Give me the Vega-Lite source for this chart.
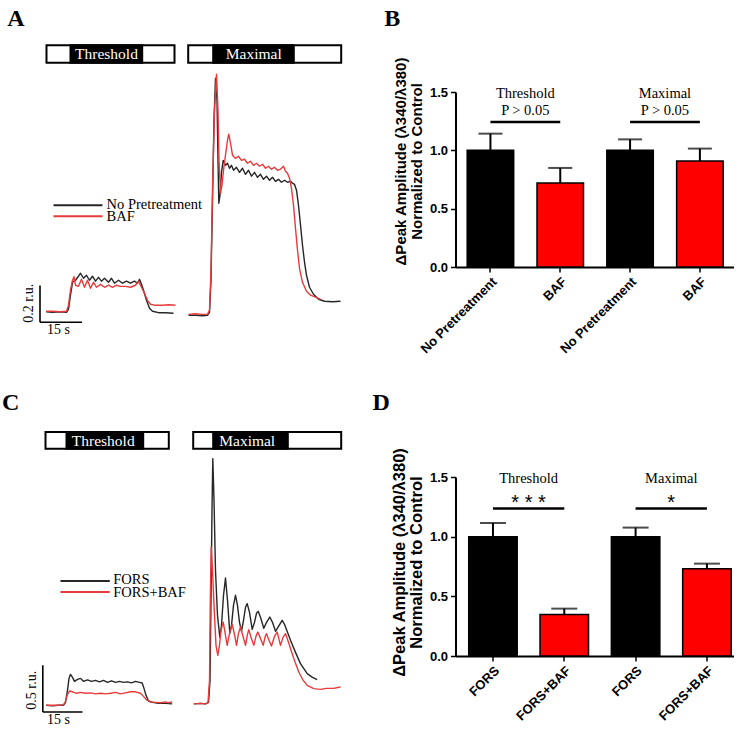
{
"$schema":"https://vega.github.io/schema/vega-lite/v6.json",
"padding":{"left":1.5,"top":7,"right":5,"bottom":5},
"background":"white",
"columns":2,
"bounds":"flush",
"spacing":{"row":210,"column":107},
"config":{
 "view":{"stroke":null},
 "axis":{"domainColor":"black","domainWidth":2,"tickColor":"black","tickWidth":1.5,"tickSize":5,"labelColor":"black","labelFont":"Liberation Sans","labelFontWeight":"bold","labelFontSize":13,"labelPadding":3,"titleFont":"Liberation Sans","titleFontWeight":"bold","titleColor":"black","grid":false},
 "text":{"font":"Liberation Serif","color":"black"}
},
"datasets":{
"trA":[
{"s":"T0","c":"ctrl","t":2.04,"v":0.057},{"s":"T0","c":"ctrl","t":4.29,"v":0.054},{"s":"T0","c":"ctrl","t":7.14,"v":0.057},{"s":"T0","c":"ctrl","t":9.29,"v":0.054},{"s":"T0","c":"ctrl","t":10.0,"v":0.071},{"s":"T0","c":"ctrl","t":10.71,"v":0.147},{"s":"T0","c":"ctrl","t":11.43,"v":0.217},{"s":"T0","c":"ctrl","t":12.5,"v":0.228},{"s":"T0","c":"ctrl","t":13.57,"v":0.25},{"s":"T0","c":"ctrl","t":14.29,"v":0.266},{"s":"T0","c":"ctrl","t":15.36,"v":0.239},{"s":"T0","c":"ctrl","t":16.43,"v":0.255},{"s":"T0","c":"ctrl","t":17.5,"v":0.228},{"s":"T0","c":"ctrl","t":18.57,"v":0.25},{"s":"T0","c":"ctrl","t":19.64,"v":0.223},{"s":"T0","c":"ctrl","t":20.71,"v":0.244},{"s":"T0","c":"ctrl","t":21.79,"v":0.223},{"s":"T0","c":"ctrl","t":22.86,"v":0.239},{"s":"T0","c":"ctrl","t":24.29,"v":0.217},{"s":"T0","c":"ctrl","t":25.36,"v":0.239},{"s":"T0","c":"ctrl","t":26.43,"v":0.212},{"s":"T0","c":"ctrl","t":27.86,"v":0.228},{"s":"T0","c":"ctrl","t":29.29,"v":0.212},{"s":"T0","c":"ctrl","t":30.71,"v":0.223},{"s":"T0","c":"ctrl","t":32.14,"v":0.212},{"s":"T0","c":"ctrl","t":33.57,"v":0.223},{"s":"T0","c":"ctrl","t":34.64,"v":0.212},{"s":"T0","c":"ctrl","t":35.36,"v":0.233},{"s":"T0","c":"ctrl","t":36.07,"v":0.206},{"s":"T0","c":"ctrl","t":36.79,"v":0.174},{"s":"T0","c":"ctrl","t":37.86,"v":0.119},{"s":"T0","c":"ctrl","t":38.93,"v":0.076},{"s":"T0","c":"ctrl","t":40.0,"v":0.06},{"s":"T0","c":"ctrl","t":42.14,"v":0.052},{"s":"T0","c":"ctrl","t":44.64,"v":0.052},{"s":"T0","c":"ctrl","t":47.5,"v":0.049},
{"s":"T1","c":"baf","t":2.04,"v":0.06},{"s":"T1","c":"baf","t":4.29,"v":0.06},{"s":"T1","c":"baf","t":7.14,"v":0.057},{"s":"T1","c":"baf","t":9.29,"v":0.06},{"s":"T1","c":"baf","t":10.0,"v":0.092},{"s":"T1","c":"baf","t":10.71,"v":0.174},{"s":"T1","c":"baf","t":11.43,"v":0.228},{"s":"T1","c":"baf","t":11.96,"v":0.247},{"s":"T1","c":"baf","t":12.5,"v":0.201},{"s":"T1","c":"baf","t":13.57,"v":0.195},{"s":"T1","c":"baf","t":14.64,"v":0.233},{"s":"T1","c":"baf","t":15.71,"v":0.19},{"s":"T1","c":"baf","t":16.79,"v":0.228},{"s":"T1","c":"baf","t":17.86,"v":0.185},{"s":"T1","c":"baf","t":18.93,"v":0.217},{"s":"T1","c":"baf","t":20.0,"v":0.19},{"s":"T1","c":"baf","t":21.43,"v":0.206},{"s":"T1","c":"baf","t":22.86,"v":0.19},{"s":"T1","c":"baf","t":24.29,"v":0.201},{"s":"T1","c":"baf","t":25.71,"v":0.19},{"s":"T1","c":"baf","t":27.14,"v":0.201},{"s":"T1","c":"baf","t":28.57,"v":0.195},{"s":"T1","c":"baf","t":30.36,"v":0.195},{"s":"T1","c":"baf","t":32.14,"v":0.19},{"s":"T1","c":"baf","t":33.93,"v":0.201},{"s":"T1","c":"baf","t":35.0,"v":0.223},{"s":"T1","c":"baf","t":36.07,"v":0.19},{"s":"T1","c":"baf","t":37.14,"v":0.157},{"s":"T1","c":"baf","t":38.21,"v":0.119},{"s":"T1","c":"baf","t":39.29,"v":0.098},{"s":"T1","c":"baf","t":41.07,"v":0.092},{"s":"T1","c":"baf","t":43.57,"v":0.092},{"s":"T1","c":"baf","t":45.71,"v":0.095},{"s":"T1","c":"baf","t":48.21,"v":0.092},
{"s":"M0","c":"ctrl","t":52.86,"v":0.038},{"s":"M0","c":"ctrl","t":55.36,"v":0.038},{"s":"M0","c":"ctrl","t":57.86,"v":0.035},{"s":"M0","c":"ctrl","t":59.64,"v":0.038},{"s":"M0","c":"ctrl","t":60.36,"v":0.054},{"s":"M0","c":"ctrl","t":60.89,"v":0.228},{"s":"M0","c":"ctrl","t":61.43,"v":0.662},{"s":"M0","c":"ctrl","t":61.96,"v":1.097},{"s":"M0","c":"ctrl","t":62.5,"v":1.325},{"s":"M0","c":"ctrl","t":63.04,"v":1.205},{"s":"M0","c":"ctrl","t":63.39,"v":0.879},{"s":"M0","c":"ctrl","t":63.68,"v":0.646},{"s":"M0","c":"ctrl","t":64.11,"v":0.689},{"s":"M0","c":"ctrl","t":64.64,"v":0.814},{"s":"M0","c":"ctrl","t":65.25,"v":0.879},{"s":"M0","c":"ctrl","t":66.07,"v":0.852},{"s":"M0","c":"ctrl","t":66.79,"v":0.863},{"s":"M0","c":"ctrl","t":67.5,"v":0.836},{"s":"M0","c":"ctrl","t":68.21,"v":0.852},{"s":"M0","c":"ctrl","t":68.93,"v":0.825},{"s":"M0","c":"ctrl","t":70.0,"v":0.841},{"s":"M0","c":"ctrl","t":71.07,"v":0.814},{"s":"M0","c":"ctrl","t":72.14,"v":0.836},{"s":"M0","c":"ctrl","t":73.21,"v":0.803},{"s":"M0","c":"ctrl","t":74.29,"v":0.825},{"s":"M0","c":"ctrl","t":75.36,"v":0.793},{"s":"M0","c":"ctrl","t":76.43,"v":0.814},{"s":"M0","c":"ctrl","t":77.5,"v":0.787},{"s":"M0","c":"ctrl","t":78.57,"v":0.803},{"s":"M0","c":"ctrl","t":79.64,"v":0.776},{"s":"M0","c":"ctrl","t":80.71,"v":0.793},{"s":"M0","c":"ctrl","t":81.79,"v":0.771},{"s":"M0","c":"ctrl","t":82.86,"v":0.787},{"s":"M0","c":"ctrl","t":83.93,"v":0.765},{"s":"M0","c":"ctrl","t":85.0,"v":0.776},{"s":"M0","c":"ctrl","t":86.07,"v":0.76},{"s":"M0","c":"ctrl","t":87.14,"v":0.771},{"s":"M0","c":"ctrl","t":88.21,"v":0.76},{"s":"M0","c":"ctrl","t":89.29,"v":0.765},{"s":"M0","c":"ctrl","t":90.0,"v":0.755},{"s":"M0","c":"ctrl","t":90.71,"v":0.749},{"s":"M0","c":"ctrl","t":91.43,"v":0.717},{"s":"M0","c":"ctrl","t":92.14,"v":0.635},{"s":"M0","c":"ctrl","t":92.86,"v":0.527},{"s":"M0","c":"ctrl","t":93.57,"v":0.418},{"s":"M0","c":"ctrl","t":94.29,"v":0.326},{"s":"M0","c":"ctrl","t":95.0,"v":0.255},{"s":"M0","c":"ctrl","t":96.07,"v":0.19},{"s":"M0","c":"ctrl","t":97.5,"v":0.152},{"s":"M0","c":"ctrl","t":99.29,"v":0.125},{"s":"M0","c":"ctrl","t":101.43,"v":0.114},{"s":"M0","c":"ctrl","t":104.29,"v":0.111},{"s":"M0","c":"ctrl","t":107.14,"v":0.114},
{"s":"M1","c":"baf","t":52.86,"v":0.043},{"s":"M1","c":"baf","t":55.36,"v":0.046},{"s":"M1","c":"baf","t":57.86,"v":0.043},{"s":"M1","c":"baf","t":59.64,"v":0.043},{"s":"M1","c":"baf","t":60.36,"v":0.065},{"s":"M1","c":"baf","t":60.89,"v":0.282},{"s":"M1","c":"baf","t":61.43,"v":0.717},{"s":"M1","c":"baf","t":62.14,"v":1.151},{"s":"M1","c":"baf","t":62.86,"v":1.346},{"s":"M1","c":"baf","t":63.39,"v":1.151},{"s":"M1","c":"baf","t":63.75,"v":0.879},{"s":"M1","c":"baf","t":64.29,"v":0.7},{"s":"M1","c":"baf","t":64.82,"v":0.744},{"s":"M1","c":"baf","t":65.36,"v":0.825},{"s":"M1","c":"baf","t":66.07,"v":0.907},{"s":"M1","c":"baf","t":66.79,"v":0.988},{"s":"M1","c":"baf","t":67.25,"v":1.021},{"s":"M1","c":"baf","t":67.86,"v":0.972},{"s":"M1","c":"baf","t":68.57,"v":0.907},{"s":"M1","c":"baf","t":69.64,"v":0.89},{"s":"M1","c":"baf","t":70.71,"v":0.901},{"s":"M1","c":"baf","t":71.79,"v":0.879},{"s":"M1","c":"baf","t":72.86,"v":0.885},{"s":"M1","c":"baf","t":73.93,"v":0.863},{"s":"M1","c":"baf","t":75.0,"v":0.874},{"s":"M1","c":"baf","t":76.07,"v":0.852},{"s":"M1","c":"baf","t":77.14,"v":0.863},{"s":"M1","c":"baf","t":78.21,"v":0.847},{"s":"M1","c":"baf","t":79.29,"v":0.858},{"s":"M1","c":"baf","t":80.36,"v":0.836},{"s":"M1","c":"baf","t":81.43,"v":0.847},{"s":"M1","c":"baf","t":82.5,"v":0.831},{"s":"M1","c":"baf","t":83.57,"v":0.841},{"s":"M1","c":"baf","t":84.64,"v":0.825},{"s":"M1","c":"baf","t":85.71,"v":0.831},{"s":"M1","c":"baf","t":86.79,"v":0.847},{"s":"M1","c":"baf","t":87.5,"v":0.82},{"s":"M1","c":"baf","t":88.21,"v":0.809},{"s":"M1","c":"baf","t":88.93,"v":0.782},{"s":"M1","c":"baf","t":89.64,"v":0.727},{"s":"M1","c":"baf","t":90.36,"v":0.635},{"s":"M1","c":"baf","t":91.07,"v":0.51},{"s":"M1","c":"baf","t":91.79,"v":0.391},{"s":"M1","c":"baf","t":92.5,"v":0.293},{"s":"M1","c":"baf","t":93.57,"v":0.217},{"s":"M1","c":"baf","t":95.0,"v":0.168},{"s":"M1","c":"baf","t":96.43,"v":0.147},{"s":"M1","c":"baf","t":98.21,"v":0.136},{"s":"M1","c":"baf","t":100.0,"v":0.125}
],
"trC":[
{"s":"T0","c":"ctrl","t":2.15,"v":0.071},{"s":"T0","c":"ctrl","t":4.53,"v":0.065},{"s":"T0","c":"ctrl","t":6.8,"v":0.071},{"s":"T0","c":"ctrl","t":8.69,"v":0.071},{"s":"T0","c":"ctrl","t":9.44,"v":0.103},{"s":"T0","c":"ctrl","t":10.2,"v":0.232},{"s":"T0","c":"ctrl","t":10.77,"v":0.36},{"s":"T0","c":"ctrl","t":11.33,"v":0.403},{"s":"T0","c":"ctrl","t":12.09,"v":0.371},{"s":"T0","c":"ctrl","t":12.84,"v":0.328},{"s":"T0","c":"ctrl","t":13.98,"v":0.35},{"s":"T0","c":"ctrl","t":15.11,"v":0.36},{"s":"T0","c":"ctrl","t":16.24,"v":0.328},{"s":"T0","c":"ctrl","t":17.76,"v":0.344},{"s":"T0","c":"ctrl","t":19.27,"v":0.328},{"s":"T0","c":"ctrl","t":20.78,"v":0.339},{"s":"T0","c":"ctrl","t":22.29,"v":0.323},{"s":"T0","c":"ctrl","t":23.8,"v":0.339},{"s":"T0","c":"ctrl","t":25.31,"v":0.317},{"s":"T0","c":"ctrl","t":26.82,"v":0.334},{"s":"T0","c":"ctrl","t":28.33,"v":0.317},{"s":"T0","c":"ctrl","t":29.85,"v":0.328},{"s":"T0","c":"ctrl","t":31.36,"v":0.317},{"s":"T0","c":"ctrl","t":32.87,"v":0.323},{"s":"T0","c":"ctrl","t":34.38,"v":0.312},{"s":"T0","c":"ctrl","t":35.89,"v":0.328},{"s":"T0","c":"ctrl","t":37.4,"v":0.317},{"s":"T0","c":"ctrl","t":38.42,"v":0.31},{"s":"T0","c":"ctrl","t":39.1,"v":0.253},{"s":"T0","c":"ctrl","t":39.86,"v":0.178},{"s":"T0","c":"ctrl","t":40.8,"v":0.117},{"s":"T0","c":"ctrl","t":42.31,"v":0.103},{"s":"T0","c":"ctrl","t":44.58,"v":0.092},{"s":"T0","c":"ctrl","t":47.22,"v":0.092},{"s":"T0","c":"ctrl","t":49.75,"v":0.087},
{"s":"T1","c":"baf","t":2.15,"v":0.071},{"s":"T1","c":"baf","t":4.53,"v":0.071},{"s":"T1","c":"baf","t":6.8,"v":0.071},{"s":"T1","c":"baf","t":8.69,"v":0.076},{"s":"T1","c":"baf","t":9.44,"v":0.114},{"s":"T1","c":"baf","t":10.2,"v":0.189},{"s":"T1","c":"baf","t":10.96,"v":0.224},{"s":"T1","c":"baf","t":12.09,"v":0.216},{"s":"T1","c":"baf","t":13.6,"v":0.2},{"s":"T1","c":"baf","t":15.11,"v":0.21},{"s":"T1","c":"baf","t":17.0,"v":0.2},{"s":"T1","c":"baf","t":18.89,"v":0.205},{"s":"T1","c":"baf","t":20.78,"v":0.194},{"s":"T1","c":"baf","t":22.67,"v":0.2},{"s":"T1","c":"baf","t":24.56,"v":0.194},{"s":"T1","c":"baf","t":26.45,"v":0.2},{"s":"T1","c":"baf","t":28.33,"v":0.21},{"s":"T1","c":"baf","t":30.22,"v":0.194},{"s":"T1","c":"baf","t":32.11,"v":0.205},{"s":"T1","c":"baf","t":34.0,"v":0.216},{"s":"T1","c":"baf","t":35.89,"v":0.216},{"s":"T1","c":"baf","t":37.78,"v":0.2},{"s":"T1","c":"baf","t":38.91,"v":0.167},{"s":"T1","c":"baf","t":40.05,"v":0.13},{"s":"T1","c":"baf","t":41.56,"v":0.108},{"s":"T1","c":"baf","t":43.45,"v":0.103},{"s":"T1","c":"baf","t":45.33,"v":0.098},{"s":"T1","c":"baf","t":47.22,"v":0.108},{"s":"T1","c":"baf","t":48.36,"v":0.098},{"s":"T1","c":"baf","t":49.75,"v":0.108},
{"s":"M0","c":"ctrl","t":57.91,"v":0.087},{"s":"M0","c":"ctrl","t":60.45,"v":0.092},{"s":"M0","c":"ctrl","t":62.33,"v":0.087},{"s":"M0","c":"ctrl","t":63.47,"v":0.103},{"s":"M0","c":"ctrl","t":64.04,"v":0.339},{"s":"M0","c":"ctrl","t":64.41,"v":1.197},{"s":"M0","c":"ctrl","t":64.79,"v":2.162},{"s":"M0","c":"ctrl","t":65.09,"v":2.717},{"s":"M0","c":"ctrl","t":65.55,"v":2.27},{"s":"M0","c":"ctrl","t":66.11,"v":1.519},{"s":"M0","c":"ctrl","t":66.87,"v":1.036},{"s":"M0","c":"ctrl","t":67.74,"v":0.803},{"s":"M0","c":"ctrl","t":68.38,"v":0.929},{"s":"M0","c":"ctrl","t":69.14,"v":1.251},{"s":"M0","c":"ctrl","t":69.89,"v":1.436},{"s":"M0","c":"ctrl","t":70.65,"v":1.197},{"s":"M0","c":"ctrl","t":71.52,"v":0.843},{"s":"M0","c":"ctrl","t":72.16,"v":0.929},{"s":"M0","c":"ctrl","t":72.91,"v":1.143},{"s":"M0","c":"ctrl","t":73.67,"v":1.251},{"s":"M0","c":"ctrl","t":74.42,"v":1.143},{"s":"M0","c":"ctrl","t":75.18,"v":0.961},{"s":"M0","c":"ctrl","t":75.94,"v":0.865},{"s":"M0","c":"ctrl","t":76.69,"v":0.983},{"s":"M0","c":"ctrl","t":77.45,"v":1.122},{"s":"M0","c":"ctrl","t":78.09,"v":1.162},{"s":"M0","c":"ctrl","t":78.96,"v":1.068},{"s":"M0","c":"ctrl","t":79.98,"v":0.886},{"s":"M0","c":"ctrl","t":80.85,"v":0.961},{"s":"M0","c":"ctrl","t":81.6,"v":1.058},{"s":"M0","c":"ctrl","t":82.24,"v":1.079},{"s":"M0","c":"ctrl","t":83.11,"v":1.015},{"s":"M0","c":"ctrl","t":84.36,"v":0.897},{"s":"M0","c":"ctrl","t":85.38,"v":0.961},{"s":"M0","c":"ctrl","t":86.63,"v":1.018},{"s":"M0","c":"ctrl","t":87.65,"v":0.961},{"s":"M0","c":"ctrl","t":88.78,"v":0.865},{"s":"M0","c":"ctrl","t":89.91,"v":0.918},{"s":"M0","c":"ctrl","t":91.31,"v":0.983},{"s":"M0","c":"ctrl","t":92.18,"v":0.94},{"s":"M0","c":"ctrl","t":93.31,"v":0.854},{"s":"M0","c":"ctrl","t":94.45,"v":0.768},{"s":"M0","c":"ctrl","t":96.34,"v":0.639},{"s":"M0","c":"ctrl","t":98.22,"v":0.518},{"s":"M0","c":"ctrl","t":100.76,"v":0.411},{"s":"M0","c":"ctrl","t":102.76,"v":0.371},{"s":"M0","c":"ctrl","t":104.53,"v":0.346},
{"s":"M1","c":"baf","t":57.91,"v":0.087},{"s":"M1","c":"baf","t":60.45,"v":0.092},{"s":"M1","c":"baf","t":62.33,"v":0.087},{"s":"M1","c":"baf","t":63.28,"v":0.098},{"s":"M1","c":"baf","t":63.85,"v":0.339},{"s":"M1","c":"baf","t":64.15,"v":1.197},{"s":"M1","c":"baf","t":64.49,"v":1.769},{"s":"M1","c":"baf","t":64.98,"v":1.519},{"s":"M1","c":"baf","t":65.74,"v":1.036},{"s":"M1","c":"baf","t":66.3,"v":0.714},{"s":"M1","c":"baf","t":66.98,"v":0.607},{"s":"M1","c":"baf","t":67.62,"v":0.714},{"s":"M1","c":"baf","t":68.19,"v":0.875},{"s":"M1","c":"baf","t":69.02,"v":0.964},{"s":"M1","c":"baf","t":69.7,"v":0.854},{"s":"M1","c":"baf","t":70.53,"v":0.714},{"s":"M1","c":"baf","t":71.4,"v":0.843},{"s":"M1","c":"baf","t":72.42,"v":0.94},{"s":"M1","c":"baf","t":73.29,"v":0.832},{"s":"M1","c":"baf","t":74.05,"v":0.714},{"s":"M1","c":"baf","t":74.8,"v":0.843},{"s":"M1","c":"baf","t":75.56,"v":0.911},{"s":"M1","c":"baf","t":76.5,"v":0.811},{"s":"M1","c":"baf","t":77.45,"v":0.714},{"s":"M1","c":"baf","t":78.2,"v":0.832},{"s":"M1","c":"baf","t":78.69,"v":0.883},{"s":"M1","c":"baf","t":79.52,"v":0.8},{"s":"M1","c":"baf","t":80.58,"v":0.714},{"s":"M1","c":"baf","t":81.41,"v":0.811},{"s":"M1","c":"baf","t":82.09,"v":0.857},{"s":"M1","c":"baf","t":83.11,"v":0.789},{"s":"M1","c":"baf","t":84.13,"v":0.714},{"s":"M1","c":"baf","t":84.81,"v":0.8},{"s":"M1","c":"baf","t":85.38,"v":0.84},{"s":"M1","c":"baf","t":86.32,"v":0.768},{"s":"M1","c":"baf","t":87.27,"v":0.707},{"s":"M1","c":"baf","t":88.4,"v":0.811},{"s":"M1","c":"baf","t":89.42,"v":0.857},{"s":"M1","c":"baf","t":90.1,"v":0.779},{"s":"M1","c":"baf","t":90.67,"v":0.714},{"s":"M1","c":"baf","t":91.61,"v":0.8},{"s":"M1","c":"baf","t":92.56,"v":0.84},{"s":"M1","c":"baf","t":93.69,"v":0.747},{"s":"M1","c":"baf","t":95.09,"v":0.625},{"s":"M1","c":"baf","t":96.34,"v":0.521},{"s":"M1","c":"baf","t":97.58,"v":0.428},{"s":"M1","c":"baf","t":98.98,"v":0.35},{"s":"M1","c":"baf","t":100.76,"v":0.285},{"s":"M1","c":"baf","t":103.25,"v":0.25},{"s":"M1","c":"baf","t":105.78,"v":0.242},{"s":"M1","c":"baf","t":108.05,"v":0.253},{"s":"M1","c":"baf","t":110.69,"v":0.253},{"s":"M1","c":"baf","t":113.34,"v":0.267}
],
"stimA":[{"stim":"Threshold","start":2.14,"end":47.86,"on":10.71,"off":36.32,"mid":23.57},{"stim":"Maximal","start":52.75,"end":107.39,"on":61.68,"off":90.46,"mid":76.18}],
"stimC":[{"stim":"Threshold","start":1.89,"end":48.47,"on":9.82,"off":38.8,"mid":23.69},{"stim":"Maximal","start":57.69,"end":113.6,"on":65.24,"off":93.43,"mid":78.09}],
"barB":[{"id":"No Pretreatment|T","g":"ctrl","mean":1.0,"upper":1.143},{"id":"BAF|T","g":"baf","mean":0.72,"upper":0.849},{"id":"No Pretreatment|M","g":"ctrl","mean":1.0,"upper":1.094},{"id":"BAF|M","g":"baf","mean":0.909,"upper":1.015}],
"sigB":[{"from":"No Pretreatment|T","to":"BAF|T","title":"Threshold","sig":"P > 0.05"},{"from":"No Pretreatment|M","to":"BAF|M","title":"Maximal","sig":"P > 0.05"}],
"barD":[{"id":"FORS|T","g":"ctrl","mean":1.0,"upper":1.115},{"id":"FORS+BAF|T","g":"baf","mean":0.347,"upper":0.397},{"id":"FORS|M","g":"ctrl","mean":1.0,"upper":1.076},{"id":"FORS+BAF|M","g":"baf","mean":0.732,"upper":0.774}],
"sigD":[{"from":"FORS|T","to":"FORS+BAF|T","title":"Threshold","sig":"* * *"},{"from":"FORS|M","to":"FORS+BAF|M","title":"Maximal","sig":"*"}]
},
"concat":[
{
 "width":308,"height":175,
 "data":{"values":[{}]},
 "layer":[
  {"data":{"name":"trA"},"mark":{"type":"line","strokeWidth":1.4,"strokeJoin":"round"},
   "encoding":{"x":{"field":"t","type":"quantitative","scale":{"domain":[0,110],"nice":false,"zero":false},"axis":null},
    "y":{"field":"v","type":"quantitative","scale":{"domain":[0.3,1.25],"nice":false,"zero":false},"axis":null},
    "detail":{"field":"s"},
    "stroke":{"field":"c","type":"nominal","scale":{"domain":["ctrl","baf"],"range":["#262626","#e63b3b"]},"legend":null}}},
  {"data":{"name":"stimA"},"mark":{"type":"rect","fill":"white","stroke":"black","strokeWidth":2},
   "encoding":{"x":{"field":"start","type":"quantitative","axis":null},"x2":{"field":"end"},"y":{"datum":1.409,"type":"quantitative","axis":null},"y2":{"datum":1.504}}},
  {"data":{"name":"stimA"},"mark":{"type":"rect","fill":"black","stroke":"black","strokeWidth":2},
   "encoding":{"x":{"field":"on","type":"quantitative","axis":null},"x2":{"field":"off"},"y":{"datum":1.409,"type":"quantitative","axis":null},"y2":{"datum":1.504}}},
  {"data":{"name":"stimA"},"mark":{"type":"text","font":"Liberation Serif","fontWeight":"normal","fill":"white","fontSize":15.5,"baseline":"middle","align":"center"},
   "encoding":{"x":{"field":"mid","type":"quantitative","axis":null},"y":{"datum":1.455,"type":"quantitative","axis":null},"text":{"field":"stim"}}},
  {"mark":{"type":"rule","strokeWidth":1.6,"color":"black"},"encoding":{"x":{"datum":-0.18,"type":"quantitative","axis":null},"y":{"datum":0,"type":"quantitative","axis":null},"y2":{"datum":0.2}}},
  {"mark":{"type":"rule","strokeWidth":1.6,"color":"black"},"encoding":{"x":{"datum":-0.18,"type":"quantitative","axis":null},"x2":{"datum":14.82},"y":{"datum":0,"type":"quantitative","axis":null}}},
  {"mark":{"type":"text","font":"Liberation Serif","fontSize":14,"angle":270,"align":"center","baseline":"middle"},"encoding":{"x":{"datum":-3.93,"type":"quantitative","axis":null},"y":{"datum":0.103,"type":"quantitative","axis":null},"text":{"value":"0.2 r.u."}}},
  {"mark":{"type":"text","font":"Liberation Serif","fontSize":14,"align":"center","baseline":"middle"},"encoding":{"x":{"datum":6.43,"type":"quantitative","axis":null},"y":{"datum":-0.043,"type":"quantitative","axis":null},"text":{"value":"15 s"}}},
  {"mark":{"type":"rule","strokeWidth":2,"color":"#262626"},"encoding":{"x":{"datum":4.64,"type":"quantitative","axis":null},"x2":{"datum":22.14},"y":{"datum":0.635,"type":"quantitative","axis":null}}},
  {"mark":{"type":"rule","strokeWidth":2,"color":"#e63b3b"},"encoding":{"x":{"datum":4.64,"type":"quantitative","axis":null},"x2":{"datum":22.14},"y":{"datum":0.5755,"type":"quantitative","axis":null}}},
  {"mark":{"type":"text","font":"Liberation Serif","fontSize":14.5,"align":"left","baseline":"middle"},"encoding":{"x":{"datum":23.6,"type":"quantitative","axis":null},"y":{"datum":0.638,"type":"quantitative","axis":null},"text":{"value":"No Pretreatment"}}},
  {"mark":{"type":"text","font":"Liberation Serif","fontSize":14.5,"align":"left","baseline":"middle"},"encoding":{"x":{"datum":23.6,"type":"quantitative","axis":null},"y":{"datum":0.572,"type":"quantitative","axis":null},"text":{"value":"BAF"}}},
  {"mark":{"type":"text","font":"Liberation Serif","fontSize":24,"fontWeight":"bold","align":"left","baseline":"alphabetic"},"encoding":{"x":{"datum":-11.9,"type":"quantitative","axis":null},"y":{"datum":1.607,"type":"quantitative","axis":null},"text":{"value":"A"}}},
  {"mark":{"type":"text","font":"Liberation Serif","fontSize":24,"fontWeight":"bold","align":"left","baseline":"alphabetic"},"encoding":{"x":{"datum":122.75,"type":"quantitative","axis":null},"y":{"datum":1.607,"type":"quantitative","axis":null},"text":{"value":"B"}}}
 ]
},
{
 "width":278,"height":175,
 "layer":[
  {"data":{"name":"barB"},"mark":{"type":"bar","stroke":"black","strokeWidth":1.5},
   "encoding":{
    "x":{"field":"id","type":"nominal","sort":null,"scale":{"domain":["No Pretreatment|T","BAF|T","No Pretreatment|M","BAF|M"],"paddingInner":0.334,"paddingOuter":0.158,"align":0.53},"axis":{"labelAngle":-45,"labelExpr":"split(datum.value,'|')[0]","title":null}},
    "y":{"field":"mean","type":"quantitative","scale":{"domain":[0,1.5],"nice":false},"axis":{"values":[0,0.5,1,1.5],"format":".1f","title":["ΔPeak Amplitude (λ340/λ380)","Normalized to Control"],"titleFontSize":15,"titleLineHeight":15.5,"titleY":69,"titlePadding":5}},
    "fill":{"field":"g","type":"nominal","scale":{"domain":["ctrl","baf"],"range":["#000000","#ff0000"]},"legend":null}}},
  {"data":{"name":"barB"},"mark":{"type":"rule","strokeWidth":2,"color":"black"},
   "encoding":{"x":{"field":"id","type":"nominal","sort":null},"y":{"field":"mean","type":"quantitative"},"y2":{"field":"upper"}}},
  {"data":{"name":"barB"},"mark":{"type":"tick","orient":"horizontal","size":24,"thickness":2,"color":"black"},
   "encoding":{"x":{"field":"id","type":"nominal","sort":null},"y":{"field":"upper","type":"quantitative"}}},
  {"data":{"name":"sigB"},"mark":{"type":"rule","strokeWidth":2.5,"color":"black"},
   "encoding":{"x":{"field":"from","type":"nominal","sort":null},"x2":{"field":"to"},"y":{"datum":1.243,"type":"quantitative"}}},
  {"data":{"name":"sigB"},"mark":{"type":"text","font":"Liberation Serif","fontSize":14.5,"align":"center","baseline":"middle"},
   "encoding":{"x":{"field":"from","type":"nominal","sort":null,"bandPosition":1.25},"y":{"datum":1.486,"type":"quantitative"},"text":{"field":"title"}}},
  {"data":{"name":"sigB"},"mark":{"type":"text","font":"Liberation Serif","fontSize":14.5,"align":"center","baseline":"middle"},
   "encoding":{"x":{"field":"from","type":"nominal","sort":null,"bandPosition":1.25},"y":{"datum":1.337,"type":"quantitative"},"text":{"field":"sig"}}}
 ]
},
{
 "width":308,"height":179,
 "data":{"values":[{}]},
 "layer":[
  {"data":{"name":"trC"},"mark":{"type":"line","strokeWidth":1.4,"strokeJoin":"round"},
   "encoding":{"x":{"field":"t","type":"quantitative","scale":{"domain":[0,116.36],"nice":false,"zero":false},"axis":null},
    "y":{"field":"v","type":"quantitative","scale":{"domain":[0.6,2.52],"nice":false,"zero":false},"axis":null},
    "detail":{"field":"s"},
    "stroke":{"field":"c","type":"nominal","scale":{"domain":["ctrl","baf"],"range":["#262626","#e63b3b"]},"legend":null}}},
  {"data":{"name":"stimC"},"mark":{"type":"rect","fill":"white","stroke":"black","strokeWidth":2},
   "encoding":{"x":{"field":"start","type":"quantitative","axis":null},"x2":{"field":"end"},"y":{"datum":2.824,"type":"quantitative","axis":null},"y2":{"datum":3.002}}},
  {"data":{"name":"stimC"},"mark":{"type":"rect","fill":"black","stroke":"black","strokeWidth":2},
   "encoding":{"x":{"field":"on","type":"quantitative","axis":null},"x2":{"field":"off"},"y":{"datum":2.824,"type":"quantitative","axis":null},"y2":{"datum":3.002}}},
  {"data":{"name":"stimC"},"mark":{"type":"text","font":"Liberation Serif","fontWeight":"normal","fill":"white","fontSize":15.5,"baseline":"middle","align":"center"},
   "encoding":{"x":{"field":"mid","type":"quantitative","axis":null},"y":{"datum":2.906,"type":"quantitative","axis":null},"text":{"field":"stim"}}},
  {"mark":{"type":"rule","strokeWidth":1.6,"color":"black"},"encoding":{"x":{"datum":0.87,"type":"quantitative","axis":null},"y":{"datum":0,"type":"quantitative","axis":null},"y2":{"datum":0.5}}},
  {"mark":{"type":"rule","strokeWidth":1.6,"color":"black"},"encoding":{"x":{"datum":0.87,"type":"quantitative","axis":null},"x2":{"datum":15.87},"y":{"datum":0,"type":"quantitative","axis":null}}},
  {"mark":{"type":"text","font":"Liberation Serif","fontSize":14,"angle":270,"align":"center","baseline":"middle"},"encoding":{"x":{"datum":-3.14,"type":"quantitative","axis":null},"y":{"datum":0.232,"type":"quantitative","axis":null},"text":{"value":"0.5 r.u."}}},
  {"mark":{"type":"text","font":"Liberation Serif","fontSize":14,"align":"center","baseline":"middle"},"encoding":{"x":{"datum":6.8,"type":"quantitative","axis":null},"y":{"datum":-0.09,"type":"quantitative","axis":null},"text":{"value":"15 s"}}},
  {"mark":{"type":"rule","strokeWidth":2,"color":"#262626"},"encoding":{"x":{"datum":7.56,"type":"quantitative","axis":null},"x2":{"datum":26.18},"y":{"datum":1.404,"type":"quantitative","axis":null}}},
  {"mark":{"type":"rule","strokeWidth":2,"color":"#e63b3b"},"encoding":{"x":{"datum":7.56,"type":"quantitative","axis":null},"x2":{"datum":26.18},"y":{"datum":1.286,"type":"quantitative","axis":null}}},
  {"mark":{"type":"text","font":"Liberation Serif","fontSize":14.5,"align":"left","baseline":"middle"},"encoding":{"x":{"datum":27.46,"type":"quantitative","axis":null},"y":{"datum":1.41,"type":"quantitative","axis":null},"text":{"value":"FORS"}}},
  {"mark":{"type":"text","font":"Liberation Serif","fontSize":14.5,"align":"left","baseline":"middle"},"encoding":{"x":{"datum":27.46,"type":"quantitative","axis":null},"y":{"datum":1.275,"type":"quantitative","axis":null},"text":{"value":"FORS+BAF"}}},
  {"mark":{"type":"text","font":"Liberation Serif","fontSize":24,"fontWeight":"bold","align":"left","baseline":"alphabetic"},"encoding":{"x":{"datum":-14.54,"type":"quantitative","axis":null},"y":{"datum":3.235,"type":"quantitative","axis":null},"text":{"value":"C"}}},
  {"mark":{"type":"text","font":"Liberation Serif","fontSize":24,"fontWeight":"bold","align":"left","baseline":"alphabetic"},"encoding":{"x":{"datum":125.4,"type":"quantitative","axis":null},"y":{"datum":3.235,"type":"quantitative","axis":null},"text":{"value":"D"}}}
 ]
},
{
 "width":278,"height":179,
 "layer":[
  {"data":{"name":"barD"},"mark":{"type":"bar","stroke":"black","strokeWidth":1.5},
   "encoding":{
    "x":{"field":"id","type":"nominal","sort":null,"scale":{"domain":["FORS|T","FORS+BAF|T","FORS|M","FORS+BAF|M"],"paddingInner":0.32,"paddingOuter":0.109,"align":0.85},"axis":{"labelAngle":-45,"labelExpr":"split(datum.value,'|')[0]","title":null}},
    "y":{"field":"mean","type":"quantitative","scale":{"domain":[0,1.5],"nice":false},"axis":{"values":[0,0.5,1,1.5],"format":".1f","title":["ΔPeak Amplitude (λ340/λ380)","Normalized to Control"],"titleFontSize":16.5,"titleLineHeight":16.5,"titleY":85,"titlePadding":5}},
    "fill":{"field":"g","type":"nominal","scale":{"domain":["ctrl","baf"],"range":["#000000","#ff0000"]},"legend":null}}},
  {"data":{"name":"barD"},"mark":{"type":"rule","strokeWidth":2,"color":"black"},
   "encoding":{"x":{"field":"id","type":"nominal","sort":null},"y":{"field":"mean","type":"quantitative"},"y2":{"field":"upper"}}},
  {"data":{"name":"barD"},"mark":{"type":"tick","orient":"horizontal","size":26,"thickness":2,"color":"black"},
   "encoding":{"x":{"field":"id","type":"nominal","sort":null},"y":{"field":"upper","type":"quantitative"}}},
  {"data":{"name":"sigD"},"mark":{"type":"rule","strokeWidth":2.5,"color":"black"},
   "encoding":{"x":{"field":"from","type":"nominal","sort":null},"x2":{"field":"to"},"y":{"datum":1.235,"type":"quantitative"}}},
  {"data":{"name":"sigD"},"mark":{"type":"text","font":"Liberation Serif","fontSize":14.5,"align":"center","baseline":"middle"},
   "encoding":{"x":{"field":"from","type":"nominal","sort":null,"bandPosition":1.235},"y":{"datum":1.487,"type":"quantitative"},"text":{"field":"title"}}},
  {"data":{"name":"sigD"},"mark":{"type":"text","font":"Liberation Sans","fontSize":20,"align":"center","baseline":"middle"},
   "encoding":{"x":{"field":"from","type":"nominal","sort":null,"bandPosition":1.235},"y":{"datum":1.28,"type":"quantitative"},"text":{"field":"sig"}}}
 ]
}
]
}
